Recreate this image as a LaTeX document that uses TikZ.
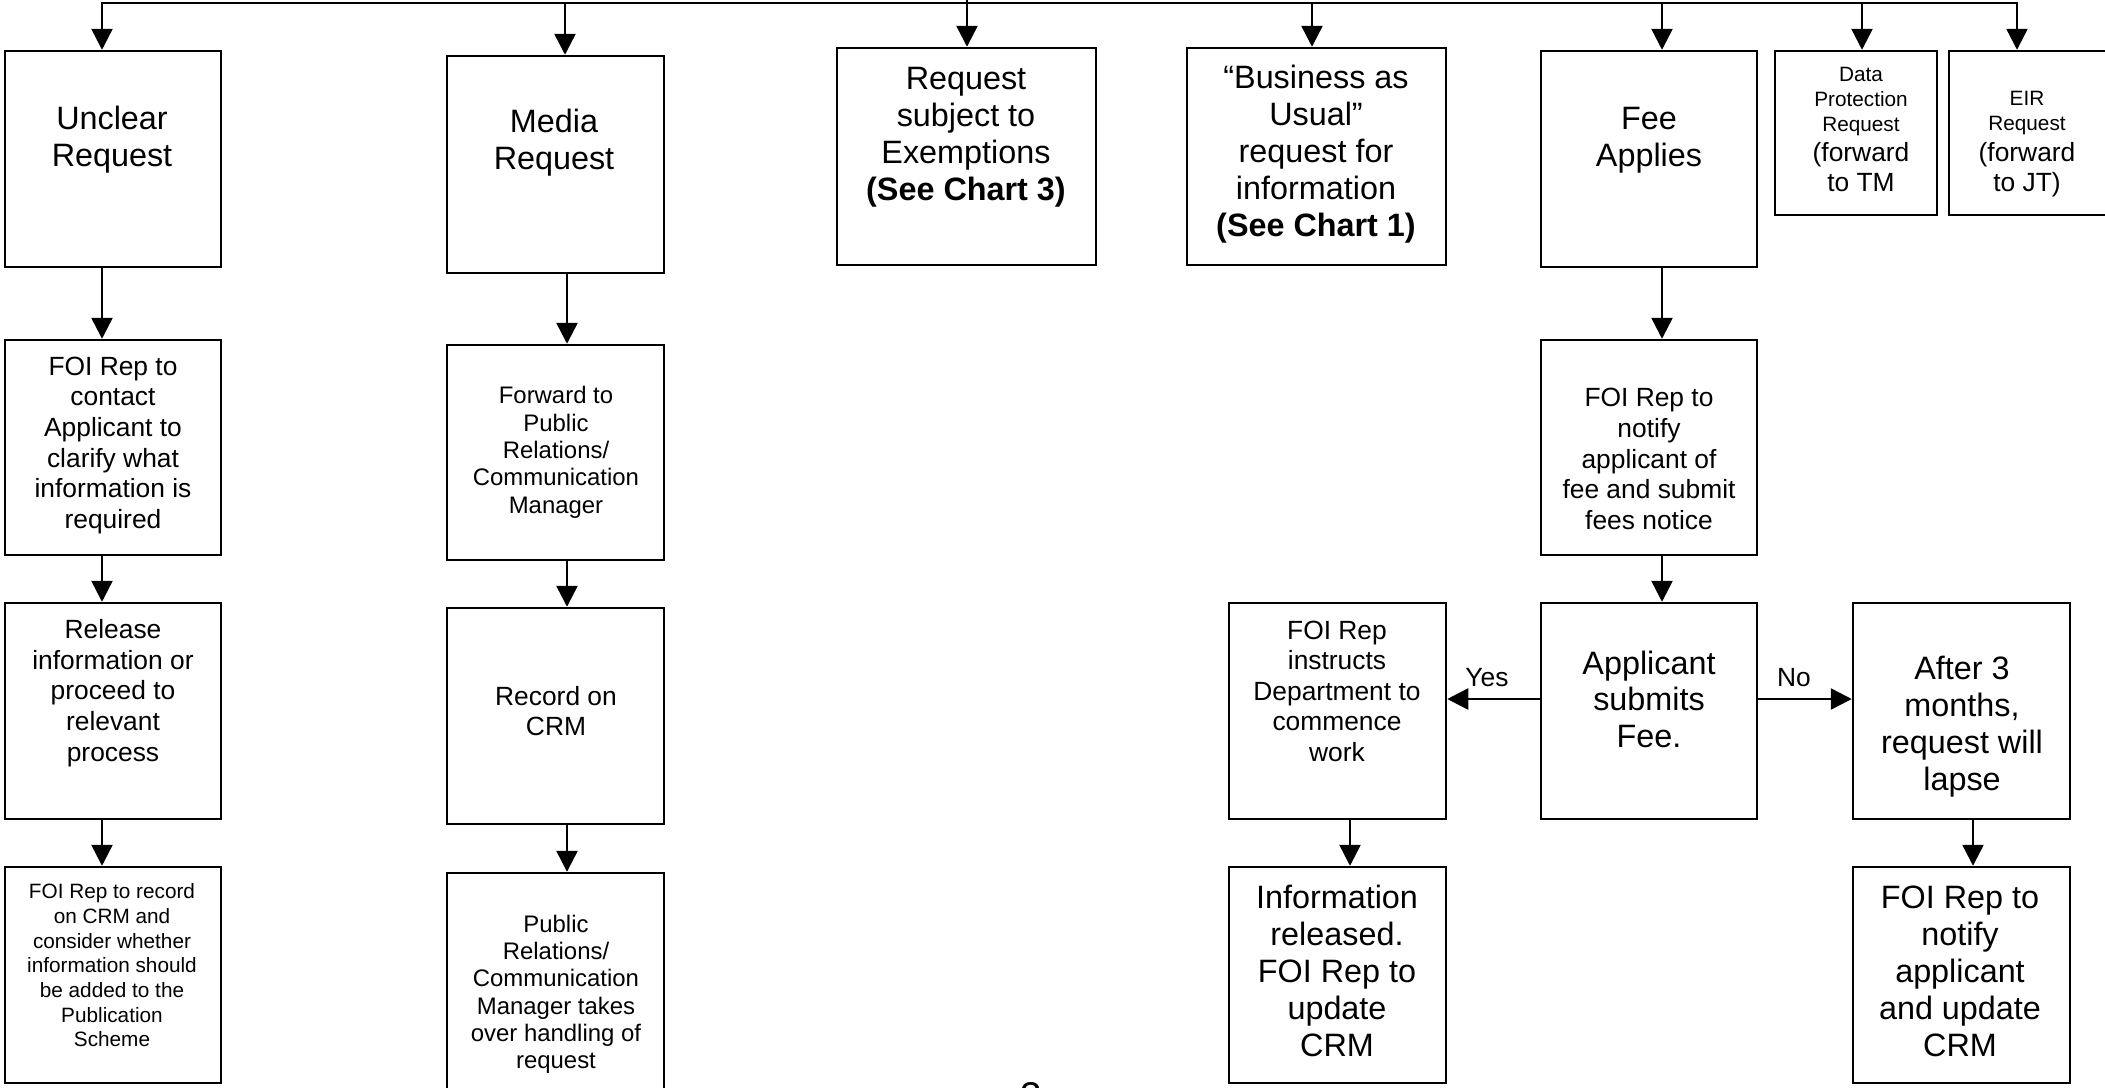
\documentclass[tikz,border=0pt]{standalone}
\usepackage{fontspec}
\setmainfont{Liberation Sans}
\usetikzlibrary{arrows.meta,fit}
\newcommand\myL{\fontsize{9.2}{10.5}\selectfont}
\newcommand\myM{\fontsize{7.5}{8.7}\selectfont}
\newcommand\myS{\fontsize{6.8}{7.75}\selectfont}
\newcommand\myXS{\fontsize{5.9}{7}\selectfont}
\begin{document}
\begin{tikzpicture}[x=0.01cm,y=-0.01cm,
  box/.style={draw, line width=0.7pt, inner sep=0pt},
  txt/.style={anchor=north, align=center, inner sep=0pt},
  conn/.style={draw, line width=0.7pt, -{Triangle[length=0.21cm,width=0.21cm]}},
  bar/.style={draw, line width=0.7pt, line cap=rect},
  lbl/.style={inner sep=0pt, font=\myM}]
\useasboundingbox (0,0) rectangle (2105,1087);
\clip (0,0) rectangle (2105,1087);

% ---- boxes ----
\node[box, fit={(5,51) (221,267)}] (unclear) {};
\node[box, fit={(5,340) (221,555)}] (contact) {};
\node[box, fit={(5,603) (221,819)}] (release) {};
\node[box, fit={(5,867) (221,1083)}] (record) {};

\node[box, fit={(447,56) (664,273)}] (media) {};
\node[box, fit={(447,345) (664,560)}] (forward) {};
\node[box, fit={(447,608) (664,824)}] (crm) {};
\node[box, fit={(447,873) (664,1100)}] (pr) {};

\node[box, fit={(837,48) (1096,265)}] (exempt) {};
\node[box, fit={(1187,48) (1446,265)}] (bau) {};
\node[box, fit={(1541,51) (1757,267)}] (fee) {};
\node[box, fit={(1775,51) (1937,215)}] (dp) {};
\node[box, fit={(1949,51) (2112,215)}] (eir) {};

\node[box, fit={(1541,340) (1757,555)}] (notifyfee) {};
\node[box, fit={(1541,603) (1757,819)}] (submits) {};
\node[box, fit={(1229,603) (1446,819)}] (instructs) {};
\node[box, fit={(1853,603) (2070,819)}] (after) {};
\node[box, fit={(1229,867) (1446,1083)}] (released) {};
\node[box, fit={(1853,867) (2070,1083)}] (notifyapp) {};

% ---- texts ----
\node[txt, font=\myL] (unclear-t) at (112,103) {\strut Unclear\\Request};
\node[txt, font=\myM] (contact-t) at (113,353.1) {\strut FOI Rep to\\contact\\Applicant to\\clarify what\\information is\\required};
\node[txt, font=\myM] (release-t) at (113,616.5) {\strut Release\\information or\\proceed to\\relevant\\process};
\node[txt, font=\myXS] (record-t) at (112,881) {\strut FOI Rep to record\\on CRM and\\consider whether\\information should\\be added to the\\Publication\\Scheme};

\node[txt, font=\myL] (media-t) at (554,106) {\strut Media\\Request};
\node[txt, font=\myS] (forward-t) at (556,384.2) {\strut Forward to\\Public\\Relations/\\Communication\\Manager};
\node[txt, font=\myM] (crm-t) at (556,683) {\strut Record on\\CRM};
\node[txt, font=\myS] (pr-t) at (556,912.5) {\strut Public\\Relations/\\Communication\\Manager takes\\over handling of\\request};

\node[txt, font=\myL] (exempt-t) at (966,63) {\strut Request\\subject to\\Exemptions\\\textbf{(See Chart 3)}};
\node[txt, font=\myL] (bau-t) at (1316,62) {\strut “Business as\\Usual”\\request for\\information\\\textbf{(See Chart 1)}};
\node[txt, font=\myL] (fee-t) at (1649,103) {\strut Fee\\Applies};
\node[txt, font=\myXS] (dp-t) at (1861,64) {\strut Data\\Protection\\Request};
\node[txt, font=\myM] (dp-t2) at (1861,139) {\strut (forward\\to TM};
\node[txt, font=\myXS] (eir-t) at (2027,88) {\strut EIR\\Request};
\node[txt, font=\myM] (eir-t2) at (2027,139) {\strut (forward\\to JT)};

\node[txt, font=\myM] (notifyfee-t) at (1649,384.7) {\strut FOI Rep to\\notify\\applicant of\\fee and submit\\fees notice};
\node[txt, font=\myL] (submits-t) at (1649,647.5) {\strut Applicant\\submits\\Fee.};
\node[txt, font=\myM] (instructs-t) at (1337,617) {\strut FOI Rep\\instructs\\Department to\\commence\\work};
\node[txt, font=\myL] (after-t) at (1962,653) {\strut After 3\\months,\\request will\\lapse};
\node[txt, font=\myL] (released-t) at (1337,882) {\strut Information\\released.\\FOI Rep to\\update\\CRM};
\node[txt, font=\myL] (notifyapp-t) at (1960,882) {\strut FOI Rep to\\notify\\applicant\\and update\\CRM};

\node[lbl] (yes) at (1487,678) {Yes};
\node[lbl] (no) at (1794,678) {No};

\node[anchor=north, inner sep=0pt, font=\fontsize{11}{13}\selectfont] (pg) at (1031,1082) {3};

% ---- connectors ----
\coordinate (tl) at (102,3);
\coordinate (tr) at (2017,3);
\coordinate (feed) at (967,0);
\coordinate (k2) at (565,3);
\coordinate (k2b) at (567,0);
\coordinate (k4) at (1312,3);
\coordinate (k5) at (1662,3);
\coordinate (k6) at (1862,3);
\coordinate (k8) at (1350,0);
\coordinate (k9) at (1973,0);
\coordinate (yy) at (0,699);

\draw[bar] (tl) -- (tr);
\draw[conn] (tl) -- (unclear.north -| tl);
\draw[conn] (k2) -- (media.north -| k2);
\draw[conn] (feed) -- (exempt.north -| feed);
\draw[conn] (k4) -- (bau.north -| k4);
\draw[conn] (k5) -- (fee.north -| k5);
\draw[conn] (k6) -- (dp.north -| k6);
\draw[conn] (tr) -- (eir.north -| tr);

\draw[conn] (unclear.south -| tl) -- (contact.north -| tl);
\draw[conn] (contact.south -| tl) -- (release.north -| tl);
\draw[conn] (release.south -| tl) -- (record.north -| tl);

\draw[conn] (media.south -| k2b) -- (forward.north -| k2b);
\draw[conn] (forward.south -| k2b) -- (crm.north -| k2b);
\draw[conn] (crm.south -| k2b) -- (pr.north -| k2b);

\draw[conn] (fee.south -| k5) -- (notifyfee.north -| k5);
\draw[conn] (notifyfee.south -| k5) -- (submits.north -| k5);
\draw[conn] (submits.west |- yy) -- (instructs.east |- yy);
\draw[conn] (submits.east |- yy) -- (after.west |- yy);
\draw[conn] (instructs.south -| k8) -- (released.north -| k8);
\draw[conn] (after.south -| k9) -- (notifyapp.north -| k9);
\end{tikzpicture}
\end{document}
